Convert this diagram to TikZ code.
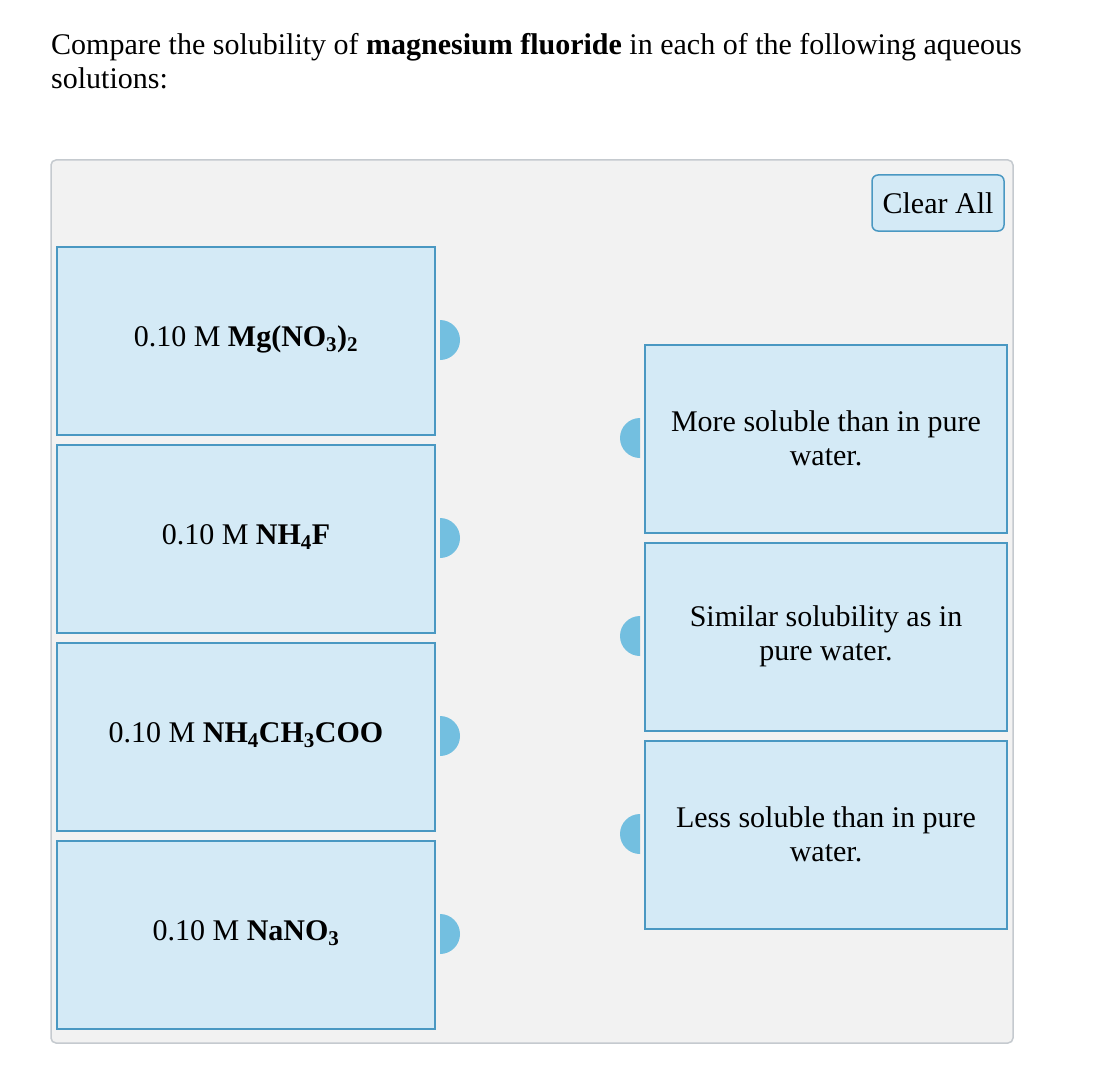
\documentclass[tikz,border=0pt]{standalone}
\usepackage{fontspec}
\setmainfont{Liberation Serif}
\begin{document}
\begin{tikzpicture}[x=1pt,y=-1pt,
  box/.style={draw=boxline,fill=boxfill,line width=2pt},
  tab/.style={fill=tabc,draw=none},
  lbl/.style={font=\fontsize{30}{34}\selectfont,align=center},
]
\definecolor{boxfill}{HTML}{D4EAF6}
\definecolor{boxline}{HTML}{4A98C2}
\definecolor{tabc}{HTML}{73BFE0}
\definecolor{bg}{HTML}{F2F2F2}
\definecolor{frame}{HTML}{C5CACF}
\useasboundingbox (0,0) rectangle (1094,1078);
\node[lbl,anchor=west,align=left,inner sep=0pt] (title) at (51,61) {Compare the solubility of \textbf{magnesium fluoride} in each of the following aqueous\\solutions:};
\draw[frame,fill=bg,line width=1.5pt,rounded corners=5pt] (51,160) rectangle (1013,1043);
\node[draw=boxline,fill=boxfill,line width=1.5pt,rounded corners=6pt,minimum width=132pt,minimum height=56pt,lbl] (clear) at (938,203) {Clear All};
\foreach \y/\t [count=\i] in {247/{0.10 M \textbf{Mg(NO$_\mathbf{3}$)$_\mathbf{2}$}},445/{0.10 M \textbf{NH$_\mathbf{4}$F}},643/{0.10 M \textbf{NH$_\mathbf{4}$CH$_\mathbf{3}$COO}},841/{0.10 M \textbf{NaNO$_\mathbf{3}$}}}{
  \draw[box] (57,\y) rectangle (435,\y+188);
  \node[lbl] (L\i) at (246,\y+92) {\t};
  \fill[tab] (440,\y+73) arc (-90:90:20) -- cycle;
}
\foreach \y/\t [count=\i] in {345/{More soluble than in pure\\water.},543/{Similar solubility as in\\pure water.},741/{Less soluble than in pure\\water.}}{
  \draw[box] (645,\y) rectangle (1007,\y+188);
  \node[lbl] (R\i) at (826,\y+93) {\t};
  \fill[tab] (640,\y+73) arc (-90:-270:20) -- cycle;
}
\end{tikzpicture}
\end{document}
